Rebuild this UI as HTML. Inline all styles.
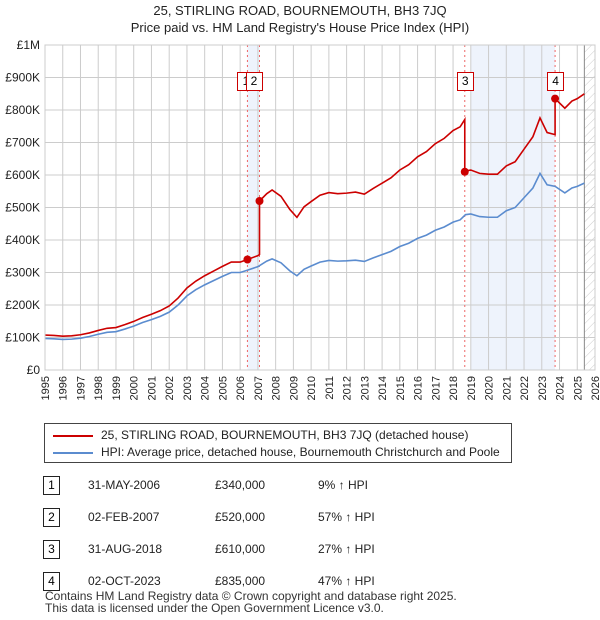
<!DOCTYPE html>
<html><head><meta charset="utf-8"><style>
body{margin:0;background:#fff;font-family:"Liberation Sans","DejaVu Sans",sans-serif;}
#wrap{position:relative;width:600px;height:620px;overflow:hidden}
.t{position:absolute;font-size:12px;color:#222;white-space:nowrap}
.nb{position:absolute;width:15px;height:17px;border:1px solid #c00;font-size:12px;text-align:center;line-height:17px;background:#fff}
</style></head><body><div id="wrap">
<svg id="svg" width="600" height="620" style="position:absolute;left:0;top:0"></svg>
<div class="t" style="left:0;width:600px;text-align:center;top:3px;font-size:13px">25, STIRLING ROAD, BOURNEMOUTH, BH3 7JQ</div>
<div class="t" style="left:0;width:600px;text-align:center;top:20px;font-size:13px">Price paid vs. HM Land Registry's House Price Index (HPI)</div>
<div style="position:absolute;left:44px;top:423px;width:466px;height:38px;border:1px solid #444">
 <div style="position:absolute;left:8px;top:11px;width:40px;height:2px;background:#c00"></div>
 <div class="t" style="left:56px;top:4px">25, STIRLING ROAD, BOURNEMOUTH, BH3 7JQ (detached house)</div>
 <div style="position:absolute;left:8px;top:28px;width:40px;height:2px;background:#5b8ccf"></div>
 <div class="t" style="left:56px;top:21px">HPI: Average price, detached house, Bournemouth Christchurch and Poole</div>
</div>
<div id="tbl"></div>
<div class="t" style="left:45px;top:589px;color:#333">Contains HM Land Registry data © Crown copyright and database right 2025.</div>
<div class="t" style="left:45px;top:601px;color:#333">This data is licensed under the Open Government Licence v3.0.</div>
</div>
<script>
const hpiYears=[1995,1995.5,1996,1996.5,1997,1997.5,1998,1998.5,1999,1999.5,2000,2000.5,2001,2001.5,2002,2002.5,2003,2003.5,2004,2004.5,2005,2005.5,2006,2006.4,2007,2007.5,2007.8,2008.3,2008.8,2009.2,2009.6,2010,2010.5,2011,2011.5,2012,2012.5,2013,2013.5,2014,2014.5,2015,2015.5,2016,2016.5,2017,2017.5,2018,2018.4,2018.7,2019,2019.5,2020,2020.5,2021,2021.5,2022,2022.5,2022.9,2023.3,2023.75,2024.3,2024.7,2025,2025.4];
const hpiValues=[97,96,94,95,98,103,110,116,118,126,135,146,155,165,178,200,228,247,262,275,288,300,300,307,318,335,342,330,305,290,310,320,332,337,335,336,338,334,345,355,365,380,390,405,415,430,440,455,462,478,480,472,470,470,490,500,530,560,605,570,565,545,560,565,575];
const saleYears=[2006.41,2007.09,2018.66,2023.75];
const salePrices=[340,520,610,835];
const saleDates=["31-MAY-2006","02-FEB-2007","31-AUG-2018","02-OCT-2023"];
const salePriceLabels=["£340,000","£520,000","£610,000","£835,000"];
const saleHpiLabels=["9% ↑ HPI","57% ↑ HPI","27% ↑ HPI","47% ↑ HPI"];
const yTicks=[0,100,200,300,400,500,600,700,800,900,1000];
const yTickLabels=["£0","£100K","£200K","£300K","£400K","£500K","£600K","£700K","£800K","£900K","£1M"];
const xTicks=[1995,1996,1997,1998,1999,2000,2001,2002,2003,2004,2005,2006,2007,2008,2009,2010,2011,2012,2013,2014,2015,2016,2017,2018,2019,2020,2021,2022,2023,2024,2025,2026];

const X0=45,X1=595,Y0=370,Y1=45;
const x=v=>X0+(v-1995)/(2026-1995)*(X1-X0);
const y=v=>Y0-v/1000*(Y0-Y1);
const NS="http://www.w3.org/2000/svg";
const svg=document.getElementById('svg');
function mk(t,a,p){const e=document.createElementNS(NS,t);for(const k in a)e.setAttribute(k,a[k]);(p||svg).appendChild(e);return e;}
function hpiAt(t){if(t<=hpiYears[0])return hpiValues[0];for(let i=1;i<hpiYears.length;i++){if(t<=hpiYears[i]){const f=(t-hpiYears[i-1])/(hpiYears[i]-hpiYears[i-1]);return hpiValues[i-1]+f*(hpiValues[i]-hpiValues[i-1]);}}return hpiValues[hpiValues.length-1];}

let e;
e=mk('rect',{x:x(saleYears[0]),y:Y1,width:x(saleYears[1])-x(saleYears[0]),height:Y0-Y1,fill:'#eef3fc'});

e=mk('rect',{x:x(2019),y:Y1,width:x(saleYears[3])-x(2019),height:Y0-Y1,fill:'#eef3fc'});

const defs=mk('defs',{});
const pat=mk('pattern',{id:'hatch',width:6,height:6,patternUnits:'userSpaceOnUse',patternTransform:'rotate(45)'},defs);
mk('line',{x1:0,y1:0,x2:0,y2:6,stroke:'#ccc','stroke-width':1},pat);
e=mk('rect',{x:x(2025.4),y:Y1,width:X1-x(2025.4),height:Y0-Y1,fill:'url(#hatch)'});

yTicks.forEach((v,i)=>{
 e=mk('line',{x1:X0,x2:X1,y1:y(v),y2:y(v),stroke:'#ccc'});
 
 e=mk('text',{x:40,y:y(v)+4,'text-anchor':'end','font-size':12,fill:'#222'});e.textContent=yTickLabels[i];
 
});
xTicks.forEach(v=>{
 e=mk('line',{x1:x(v),x2:x(v),y1:Y1,y2:Y0,stroke:'#ccc'});
 
 e=mk('text',{x:x(v)+4,y:376,'text-anchor':'end','font-size':11,fill:'#222',transform:'rotate(-90 '+(x(v)+4)+' 376)'});e.textContent=v;
 
});
e=mk('line',{x1:x(2025.4),x2:x(2025.4),y1:Y1,y2:Y0,stroke:'#888'});

saleYears.forEach((s,i)=>{
 e=mk('line',{x1:x(s),x2:x(s),y1:Y1,y2:Y0,stroke:'#e66','stroke-dasharray':'2,3'});
 
});
let pts=hpiYears.map((t,i)=>x(t)+','+y(hpiValues[i])).join(' ');
e=mk('polyline',{points:pts,fill:'none',stroke:'#5b8ccf','stroke-width':1.6});

let rp=[];
function seg(t0,t1,k){const ts=[t0,...hpiYears.filter(t=>t>t0&&t<t1),t1];const base=hpiAt(saleYears[k]);ts.forEach(t=>rp.push(x(t)+','+y(salePrices[k]*hpiAt(t)/base)));}
seg(1995,saleYears[0],0);
for(let k=0;k<saleYears.length;k++)seg(saleYears[k],k<saleYears.length-1?saleYears[k+1]:2025.4,k);
e=mk('polyline',{points:rp.join(' '),fill:'none',stroke:'#c00','stroke-width':1.6});

saleYears.forEach((s,i)=>{
 e=mk('circle',{cx:x(s),cy:y(salePrices[i]),r:4,fill:'#c00'});
 
});
e=mk('rect',{x:X0,y:Y1,width:X1-X0,height:Y0-Y1,fill:'none',stroke:'#ccc'});

const wrap=document.getElementById('wrap');
saleYears.forEach((s,i)=>{
 const d=document.createElement('div');d.className='nb';d.textContent=i+1;
 d.style.left=(i==0?x(s)-10:i==1?x(s)-14:x(s)-8)+'px';d.style.top='72px';
 
 
 wrap.appendChild(d);
});
saleYears.forEach((s,i)=>{
 const top=476+i*32;
 const b=document.createElement('div');b.className='nb';b.style.left='43px';b.style.top=top+'px';b.style.borderColor='#222';b.textContent=i+1;
 
 
 wrap.appendChild(b);
 [[saleDates[i],88,'table-date'],[salePriceLabels[i],215,'table-price'],[saleHpiLabels[i],318,'table-hpi-change']].forEach(([txt,l,n])=>{
  const d=document.createElement('div');d.className='t';d.style.left=l+'px';d.style.top=(top+2)+'px';d.textContent=txt;
  
  
  wrap.appendChild(d);
 });
});
</script></body></html>
